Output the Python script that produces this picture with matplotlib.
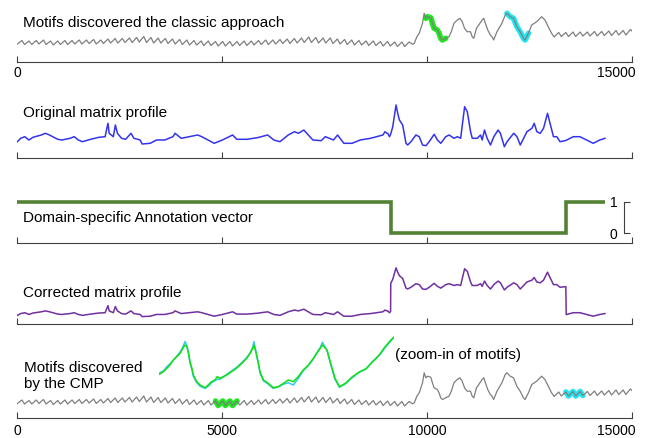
import numpy as np
import matplotlib
matplotlib.use('Agg')
import matplotlib.pyplot as plt
from matplotlib.transforms import ScaledTranslation

plt.rcParams['font.family'] = ['Liberation Sans', 'DejaVu Sans']

# ---------------- data ----------------
# gray time series, low part: one trough / peak per cycle
cycle = 175
low_troughs = [14, 13.5, 13.5, 14, 13.5, 13, 13.5, 13.5, 14,
               14, 14.5, 14, 14.5, 15, 15, 15.5, 15.5, 16, 15.5,
               15, 15, 14.5, 14, 13.5, 13, 13, 12.5, 12.5, 12, 12, 12,
               12.5, 12.5, 13, 13.5, 13.5, 14, 14.5, 14.5, 15, 15.5, 15.5,
               15, 15, 14.5, 14, 13.5, 13, 13, 12.5, 12.5, 12, 12, 11.5, 11.5]
low_peaks = [17.5, 17, 17.5, 18, 17, 17, 17.5, 17.5, 18,
             18, 18.5, 18, 19, 19.5, 19.5, 20, 20.5, 21.5, 20.5,
             20, 19.5, 19, 18.5, 18, 17.5, 17, 17, 16.5, 16.5, 16.5, 16.5,
             17, 17, 17.5, 18, 18, 18.5, 19, 19.5, 20, 21, 20.5,
             20, 20, 19, 18.5, 18, 17.5, 17, 17, 16.5, 16.5, 16, 16, 16]
# gray time series, high part (vertices)
high_x = [9645, 9686, 9750, 9807, 9887, 9928, 9968, 10008, 10089, 10129,
          10170, 10250, 10291, 10331, 10372, 10452, 10533, 10590, 10654, 10735,
          10800, 10856, 10913, 10977, 11058, 11099, 11139, 11204, 11260, 11341,
          11382, 11422, 11479, 11543, 11583, 11624, 11704, 11825, 11906, 11947,
          12027, 12109, 12189, 12270, 12351, 12391, 12472, 12553, 12674, 12795,
          12875, 12957, 13037]
high_v = [13.7, 14.7, 21.3, 24.7, 34.7, 44.7, 39.7, 41.3, 40.3, 34.7,
          29.7, 28, 24.7, 19.7, 18, 19.7, 21.3, 26.3, 34.7, 38,
          39.7, 36.3, 29.7, 26.3, 26.3, 21.3, 19.7, 29.7, 33, 38,
          39.7, 34.7, 28, 23, 21.3, 18, 26.3, 34.7, 43, 44.7,
          41.3, 39.7, 31.3, 26.3, 19.7, 18, 24.7, 33, 36.3, 41.3,
          38, 31.3, 24.7]
# gray time series, tail
tail_start = 13100
tail_troughs = [21, 21.5, 21.5, 21.5, 22, 22, 22, 22.5, 22.5, 23, 23]
tail_peaks = [25.5, 25.5, 26, 26, 26, 26.5, 26.5, 27, 27.5, 27.5, 28.5]
series_end = (15000, 27)

classic_motifs = [(9930, 10530), (11940, 12540)]
cmp_motifs = [(4780, 5400), (13280, 13900)]

# original matrix profile (vertices)
mp_x = [0, 80, 181, 281, 381, 582, 683, 783, 984, 1085, 1286, 1386, 1487, 1587,
        1788, 1989, 2140, 2210, 2240, 2341, 2391, 2441, 2542, 2642, 2773, 2843,
        2994, 3044, 3244, 3394, 3596, 3797, 3848, 3998, 4199, 4400, 4500, 4651,
        4802, 5003, 5253, 5354, 5604, 5856, 6108, 6258, 6409, 6610, 6761, 6861,
        6991, 7062, 7212, 7414, 7514, 7715, 7815, 7966, 8166, 8367, 8619, 8770,
        8920, 8971, 9021, 9039, 9080, 9108, 9112, 9161, 9241, 9282, 9323, 9403,
        9484, 9524, 9605, 9726, 9808, 9888, 9969, 10050, 10172, 10252, 10333,
        10454, 10536, 10657, 10738, 10818, 10915, 10980, 11060, 11101, 11222,
        11303, 11343, 11400, 11465, 11546, 11628, 11732, 11788, 11885, 11950,
        12113, 12193, 12273, 12356, 12436, 12557, 12613, 12678, 12759, 12841,
        12938, 13001, 13083, 13164, 13244, 13385, 13395, 13406, 13569, 13729,
        13891, 14054, 14214, 14340]
mp_v = [16.3, 19.7, 21.3, 18, 20.7, 23, 24.7, 23, 18.7, 18, 19.7, 21.3, 18, 16.3,
        18.7, 20.7, 21.3, 34.7, 24.7, 21.3, 33, 24.7, 19.7, 18.7, 24.7, 19.7,
        18, 14, 14.7, 18, 18, 21.3, 24.7, 19.7, 21.3, 23, 21.3, 18,
        14.7, 18, 23, 18.7, 18.7, 20.3, 23, 18, 16.3, 23, 26.3, 24.7,
        28, 24.7, 18, 17.3, 21.3, 18, 23, 14.7, 14.7, 18, 19.7, 21.3,
        23, 26.3, 24.7, 24.7, 21.3, 23.5, 24, 31.3, 53, 44.7, 38, 33,
        14.7, 13, 16.3, 23, 21.3, 13, 12.3, 16.3, 23.7, 18, 14.7,
        21.3, 23, 19.7, 21.3, 19.7, 51.3, 46.3, 26.3, 19.7, 19.7,
        23, 18, 28, 19.7, 13, 21.3, 28, 24.7, 11.3, 16.3,
        24.7, 21.3, 13, 19.7, 26.3, 29.7, 34.7, 26.3, 24.7, 29.7,
        44.7, 34.7, 21.3, 21.3, 16.3, 17.5, 17.6, 18, 21.3, 21.3,
        18, 14.7, 18, 19.7]

# annotation vector change points
av_x = [0, 9110, 13390, 14340]
av_y = [1, 0, 1, 1]

# zoom-in of the two CMP motifs
zoom_idx = [0, 11, 20, 28, 37, 46, 55, 62, 68, 73, 77, 81, 86, 90, 99, 108, 121, 129,
            138, 147, 153, 160, 169, 178, 191, 204, 218, 231, 240, 247, 250, 255, 262,
            266, 275, 288, 301, 314, 328, 341, 354, 367, 380, 394, 407, 416, 425, 431,
            443, 454, 464, 476, 493, 509, 528, 546, 563, 581, 596, 612, 620]
zoom_green = [-0.59, -0.41, -0.16, 0.07, 0.43, 0.66, 0.91, 1.26, 1.50, 1.38,
              0.91, 0.31, -0.16, -0.64, -1.12, -1.36, -1.55, -1.36, -1.12, -1.00,
              -0.76, -0.88, -0.76, -0.64, -0.41, -0.16, 0.19, 0.55, 0.91, 1.26,
              1.50, 1.02, 0.19, -0.41, -1.00, -1.24, -1.55, -1.48, -1.24, -1.00,
              -1.12, -0.76, -0.29, 0.07, 0.55, 0.91, 1.26, 1.50, 1.14, 0.07,
              -0.86, -1.48, -1.21, -0.79, -0.43, -0.21, 0.29, 0.79, 1.36, 1.86, 2.07]
zoom_cyan = [-0.50, -0.35, -0.05, 0.15, 0.40, 0.70, 1.00, 1.35, 1.75, 1.45,
             0.95, 0.25, -0.25, -0.75, -1.20, -1.45, -1.60, -1.45, -1.20, -1.05,
             -0.95, -0.95, -0.80, -0.60, -0.35, -0.10, 0.25, 0.60, 0.95, 1.35,
             1.75, 1.05, 0.10, -0.50, -1.05, -1.30, -1.60, -1.50, -1.30, -1.20,
             -1.36, -0.90, -0.35, 0.05, 0.50, 0.95, 1.30, 1.70, 1.10, 0.00,
             -0.95, -1.52, -1.25, -0.85, -0.45, -0.20, 0.30, 0.75, 1.30, 1.80, 2.05]

ticks = [0, 5000, 10000, 15000]

# ---------------- assemble series ----------------
k = np.arange(len(low_troughs))
low_x = np.column_stack([k * cycle, k * cycle + 110]).ravel()
low_v = np.column_stack([low_troughs, low_peaks]).ravel()
k2 = np.arange(len(tail_troughs))
tail_x = np.column_stack([tail_start + k2 * cycle, tail_start + k2 * cycle + 110]).ravel()
tail_v = np.column_stack([tail_troughs, tail_peaks]).ravel()
ts_x = np.concatenate([low_x, high_x, tail_x, [series_end[0]]])
ts_v = np.concatenate([low_v, high_v, tail_v, [series_end[1]]])

mp_x = np.array(mp_x, float)
mp_v = np.array(mp_v, float)
av_at_mp = np.where((mp_x >= av_x[1]) & (mp_x < av_x[2]), 0, 1)
cmp_v = mp_v + (1 - av_at_mp) * mp_v.max()

# ---------------- figure ----------------
W, H = 646, 438
X0, X1 = 17.4, 632
gray = '#7f7f7f'
axcol = '#404040'
green_hl = '#1ee81e'
cyan_hl = '#1ee6f2'

fig = plt.figure(figsize=(W / 100, H / 100), dpi=100)


def panel(y_top, y_bot):
    ax = fig.add_axes([X0 / W, 1 - y_bot / H, (X1 - X0) / W, (y_bot - y_top) / H])
    ax.set_xlim(0, 15000)
    for s in ['top', 'right', 'left']:
        ax.spines[s].set_visible(False)
    ax.spines['bottom'].set_color(axcol)
    ax.spines['bottom'].set_linewidth(0.8)
    ax.set_xticks(ticks)
    ax.tick_params(axis='x', direction='in', length=4, width=0.8, color=axcol,
                   labelsize=10, pad=3, labelbottom=False)
    ax.set_yticks([])
    ax.patch.set_visible(False)
    return ax


def shift_last_label(ax):
    lab = ax.get_xticklabels()[-1]
    lab.set_transform(lab.get_transform() + ScaledTranslation(-16 / 100, 0, fig.dpi_scale_trans))


def ftext(x, y, s, **kw):
    fig.text(x / W, 1 - y / H, s, va='baseline', fontsize=11, **kw)


# panel 1: classic motifs
ax1 = panel(5, 62)
ax1.set_ylim(-4, 53)
for (a, b), c in zip(classic_motifs, [green_hl, cyan_hl]):
    m = (ts_x >= a) & (ts_x <= b)
    ax1.plot(ts_x[m], ts_v[m], color=c, lw=4, solid_capstyle='round')
ax1.plot(ts_x, ts_v, color=gray, lw=0.9)
ax1.tick_params(axis='x', labelbottom=True)
ax1.set_xticklabels(['0', '', '', '15000'])
shift_last_label(ax1)

# panel 2: original matrix profile
ax2 = panel(95, 158)
ax2.set_ylim(0, 63)
ax2.plot(mp_x, mp_v, color='#3333f0', lw=1.1)

# panel 3: annotation vector
ax3 = panel(195, 243)
ax3.set_ylim(-0.307, 1.212)
ax3.plot(av_x, av_y, color='#548235', lw=2.6, drawstyle='steps-post',
         solid_joinstyle='miter', solid_capstyle='butt')
ax3.spines['left'].set_visible(True)
ax3.spines['left'].set_position(('data', 14812))
ax3.spines['left'].set_bounds(0, 1)
ax3.spines['left'].set_color(axcol)
ax3.spines['left'].set_linewidth(0.8)
ax3.set_yticks([0, 1])
ax3.tick_params(axis='y', direction='in', length=4, width=0.8, color=axcol,
                labelsize=10, pad=5)

# panel 4: corrected matrix profile
ax4 = panel(262, 324)
ax4.set_ylim(0, 62 / 0.53)
ax4.plot(mp_x, cmp_v, color='#7030a0', lw=1.1)

# panel 5: motifs found with the CMP
ax5 = panel(335, 417.5)
ax5.set_ylim(0, 82.5)
for (a, b), c in zip(cmp_motifs, [green_hl, cyan_hl]):
    m = (ts_x >= a) & (ts_x <= b)
    ax5.plot(ts_x[m], ts_v[m], color=c, lw=4, solid_capstyle='round')
ax5.plot(ts_x, ts_v, color=gray, lw=0.9)
ax5.tick_params(axis='x', labelbottom=True, pad=5)
ax5.set_xticklabels([str(t) for t in ticks])
shift_last_label(ax5)

# zoom-in of the motifs
axz = fig.add_axes([159.3 / W, 1 - 395 / H, (394 - 159.3) / W, 60 / H])
axz.set_xlim(0, 620)
axz.set_ylim(-2.071, 2.214)
axz.axis('off')
axz.plot(zoom_idx, zoom_cyan, color='#38c8f5', lw=1.1)
axz.plot(zoom_idx, zoom_green, color='#10e010', lw=1.1)

# labels
ftext(22.8, 27.5, 'Motifs discovered the classic approach')
ftext(22.8, 117.3, 'Original matrix profile')
ftext(22.8, 222.5, 'Domain-specific Annotation vector')
ftext(22.8, 297.5, 'Corrected matrix profile')
ftext(24, 371.7, 'Motifs discovered')
ftext(24, 388, 'by the CMP')
ftext(395.4, 358.5, '(zoom-in of motifs)')

fig.savefig('out.png', dpi=100)
